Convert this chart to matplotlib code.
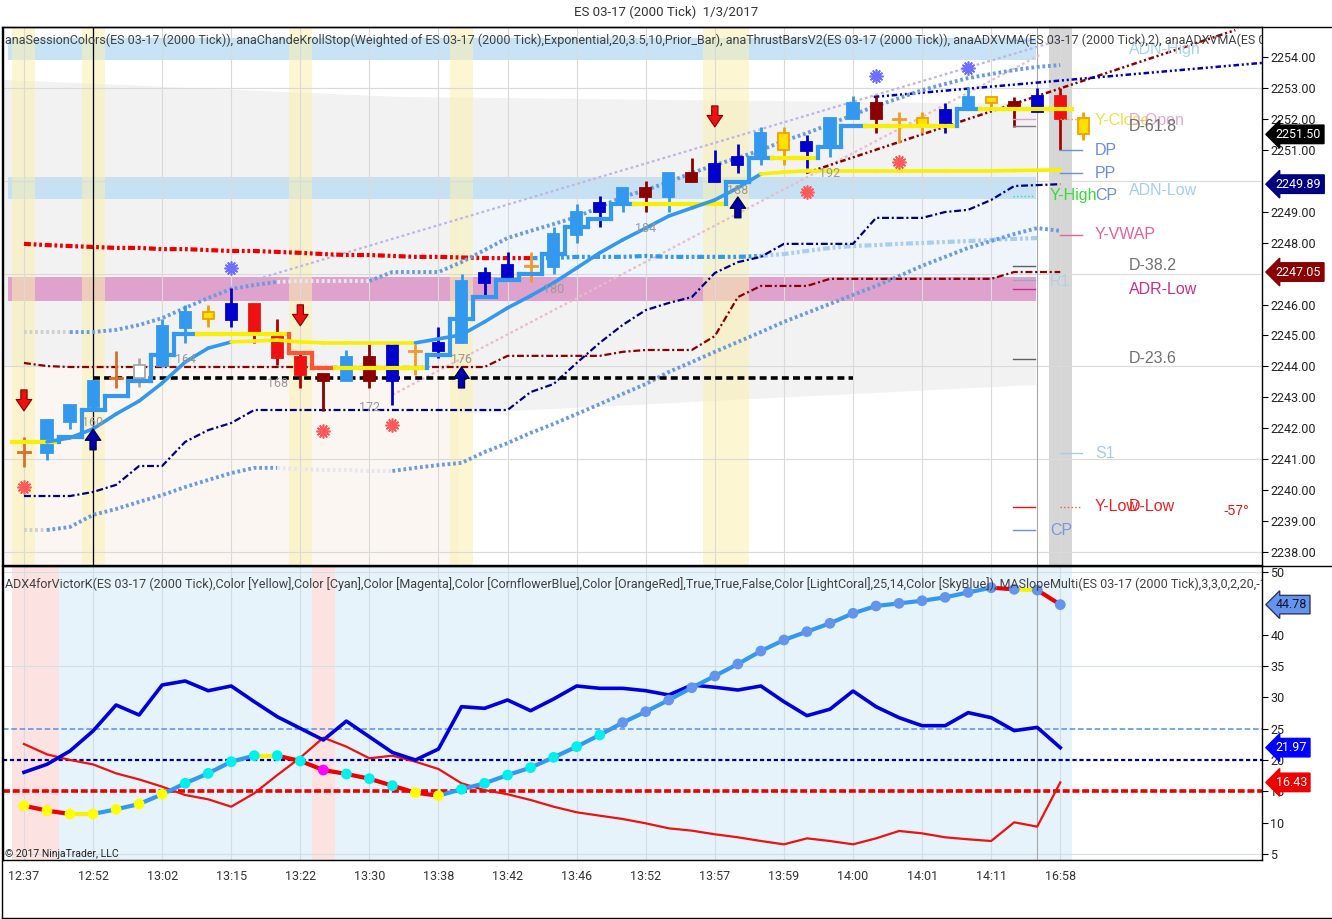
import matplotlib
matplotlib.use('Agg')
import matplotlib.pyplot as plt
from matplotlib.collections import LineCollection
from matplotlib.patches import Polygon
from matplotlib.lines import Line2D
from matplotlib.transforms import blended_transform_factory

plt.rcParams['font.family'] = ['Roboto', 'DejaVu Sans']
plt.rcParams['lines.scale_dashes'] = False

# ---------------- data ----------------
title = "ES 03-17 (2000 Tick)  1/3/2017"
header_top = ("anaSessionColors(ES 03-17 (2000 Tick)), anaChandeKrollStop(Weighted of ES 03-17 (2000 Tick),"
              "Exponential,20,3.5,10,Prior_Bar), anaThrustBarsV2(ES 03-17 (2000 Tick)), "
              "anaADXVMA(ES 03-17 (2000 Tick),2), anaADXVMA(ES 03-17 (2000 Tick),6)")
header_bottom = ("ADX4forVictorK(ES 03-17 (2000 Tick),Color [Yellow],Color [Cyan],Color [Magenta],"
                 "Color [CornflowerBlue],Color [OrangeRed],True,True,False,Color [LightCoral],25,14,"
                 "Color [SkyBlue]), MASlopeMulti(ES 03-17 (2000 Tick),3,3,0,2,20,-10,10)")
copyright_txt = "© 2017 NinjaTrader, LLC"

time_labels = ['12:37', '12:52', '13:02', '13:15', '13:22', '13:30', '13:38', '13:42',
               '13:46', '13:52', '13:57', '13:59', '14:00', '14:01', '14:11', '16:58']

opens = [2241.23, 2241.20, 2242.20, 2242.70, 2243.62, 2243.62, 2244.00, 2245.24, 2245.53, 2245.50,
         2246.02, 2244.98, 2244.30, 2243.75, 2243.53, 2244.30, 2243.53, 2244.50, 2244.50, 2244.76,
         2246.70, 2246.90, 2247.24, 2247.21, 2248.25, 2248.99, 2249.28, 2249.77, 2249.48, 2250.25,
         2249.96, 2250.50, 2250.77, 2251.00, 2250.97, 2251.10, 2252.00, 2252.51, 2252.00, 2251.74,
         2251.87, 2252.29, 2252.50, 2252.55, 2252.22, 2252.74, 2252.03]
highs = [2241.72, 2242.30, 2242.75, 2243.55, 2244.50, 2244.27, 2245.53, 2245.98, 2245.98, 2246.53,
         2246.02, 2245.53, 2244.50, 2243.75, 2244.53, 2244.72, 2244.72, 2244.72, 2245.27, 2246.98,
         2247.20, 2247.70, 2247.70, 2248.50, 2249.25, 2249.50, 2249.77, 2250.00, 2250.25, 2250.74,
         2251.00, 2251.20, 2251.74, 2251.74, 2251.48, 2252.03, 2252.74, 2252.74, 2252.22, 2252.22,
         2252.51, 2253.03, 2252.71, 2252.71, 2253.00, 2253.00, 2252.22]
lows = [2240.75, 2240.97, 2241.98, 2242.70, 2243.30, 2243.33, 2243.98, 2244.76, 2245.27, 2245.27,
        2244.76, 2244.04, 2243.30, 2242.56, 2243.53, 2243.30, 2242.75, 2243.72, 2244.27, 2244.76,
        2246.30, 2246.80, 2246.73, 2247.00, 2247.99, 2248.50, 2249.00, 2249.00, 2249.00, 2249.96,
        2249.96, 2250.25, 2250.50, 2250.50, 2250.41, 2250.77, 2252.00, 2251.54, 2251.22, 2251.54,
        2251.54, 2252.29, 2252.29, 2251.74, 2252.22, 2251.00, 2251.32]
closes = [2241.23, 2242.27, 2242.75, 2243.53, 2243.62, 2244.03, 2245.30, 2245.76, 2245.76, 2246.02,
          2245.05, 2244.27, 2243.72, 2243.53, 2244.30, 2243.53, 2244.72, 2244.50, 2244.76, 2246.76,
          2247.02, 2247.28, 2247.24, 2248.28, 2248.99, 2249.28, 2249.77, 2249.48, 2250.25, 2249.96,
          2250.54, 2250.77, 2251.54, 2251.54, 2251.26, 2252.03, 2252.51, 2252.00, 2252.00, 2252.03,
          2252.29, 2252.71, 2252.71, 2252.29, 2252.74, 2252.00, 2251.50]
bar_kind = ['CH', 'LB', 'LB', 'LB', 'CH', 'GY', 'LB', 'LB', 'YL', 'DB', 'R', 'R', 'R', 'DR', 'LB',
            'DR', 'DB', 'OR', 'DB', 'LB', 'DB', 'DB', 'OR', 'LB', 'LB', 'DB', 'LB', 'DR', 'LB', 'DR',
            'DB', 'DB', 'LB', 'YL', 'DB', 'LB', 'LB', 'DR', 'OR', 'YL', 'DB', 'LB', 'YL', 'DR', 'DB',
            'R', 'YL']

# ADXVMA(2) stepped line
adxvma2 = [2241.55, 2241.55, 2241.72, 2242.60, 2243.04, 2243.53, 2244.37, 2245.05, 2245.05, 2245.05,
           2245.05, 2245.05, 2244.43, 2243.95, 2243.95, 2243.95, 2243.95, 2243.95, 2244.37, 2245.53,
           2246.24, 2246.80, 2246.98, 2247.63, 2248.50, 2248.76, 2249.25, 2249.25, 2249.25, 2249.25,
           2249.25, 2249.96, 2250.74, 2250.74, 2250.74, 2251.10, 2251.77, 2251.77, 2251.77, 2251.77,
           2251.77, 2252.32, 2252.32, 2252.32, 2252.32, 2252.32]
# ADXVMA(6) smooth line (starts at bar 1)
adxvma6 = [2241.56, 2241.69, 2241.98, 2242.46, 2242.88, 2243.46, 2244.14, 2244.59, 2244.79, 2244.82,
           2244.85, 2244.79, 2244.76, 2244.76, 2244.76, 2244.76, 2244.76, 2244.89, 2245.02, 2245.44,
           2245.89, 2246.28, 2246.70, 2247.18, 2247.67, 2248.09, 2248.47, 2248.86, 2249.12, 2249.38,
           2249.77, 2250.22, 2250.28, 2250.32, 2250.32, 2250.32, 2250.32, 2250.32, 2250.32, 2250.32,
           2250.32, 2250.32, 2250.33, 2250.34, 2250.35]
# Chande Kroll stop dotted lines
ck_upper = [2245.11, 2245.11, 2245.11, 2245.11, 2245.18, 2245.34, 2245.56, 2245.89, 2246.21, 2246.50,
            2246.63, 2246.73, 2246.76, 2246.76, 2246.76, 2246.76, 2247.05, 2247.05, 2247.05, 2247.37,
            2247.76, 2248.15, 2248.38, 2248.60, 2248.83, 2249.15, 2249.48, 2249.70, 2249.96, 2250.25,
            2250.51, 2250.74, 2250.99, 2251.29, 2251.54, 2251.83, 2252.13, 2252.42, 2252.67, 2252.93,
            2253.13, 2253.32, 2253.45, 2253.58, 2253.68, 2253.74]
ck_upper_kind = ['g', 'g', 'g', 'b', 'b', 'b', 'b', 'b', 'b', 'b', 'b', 'b', 'w', 'w', 'w', 'w',
                 'b', 'b', 'b', 'b', 'b', 'b', 'b', 'b', 'b', 'b', 'b', 'b', 'b', 'b', 'b', 'b', 'b',
                 'b', 'b', 'b', 'b', 'b', 'b', 'b', 'b', 'b', 'b', 'b', 'b', 'b']
ck_lower = [2238.71, 2238.71, 2238.81, 2239.20, 2239.39, 2239.62, 2239.84, 2240.10, 2240.33, 2240.55,
            2240.72, 2240.72, 2240.68, 2240.65, 2240.65, 2240.62, 2240.62, 2240.72, 2240.81, 2240.88,
            2241.23, 2241.52, 2241.85, 2242.14, 2242.46, 2242.78, 2243.11, 2243.43, 2243.82, 2244.14,
            2244.47, 2244.79, 2245.11, 2245.44, 2245.73, 2246.02, 2246.31, 2246.60, 2246.92, 2247.25,
            2247.54, 2247.83, 2248.05, 2248.28, 2248.47, 2248.38]
ck_lower_kind = ['g', 'g', 'b', 'b', 'b', 'b', 'b', 'b', 'b', 'b', 'b', 'b', 'w', 'w', 'w', 'w',
                 'w', 'b', 'b', 'b', 'b', 'b', 'b', 'b', 'b', 'b', 'b', 'b', 'b', 'b', 'b', 'b', 'b',
                 'b', 'b', 'b', 'b', 'b', 'b', 'b', 'b', 'b', 'b', 'b', 'b', 'b']
# channel lines
chan_upper = [2244.11, 2244.01, 2243.98, 2243.98, 2243.98, 2243.98, 2243.98, 2243.98, 2243.98, 2243.98,
              2243.98, 2243.98, 2243.98, 2243.98, 2243.98, 2243.98, 2243.98, 2243.98, 2243.98, 2243.98,
              2243.98, 2244.34, 2244.34, 2244.34, 2244.34, 2244.34, 2244.47, 2244.53, 2244.53, 2244.53,
              2244.98, 2246.24, 2246.60, 2246.60, 2246.60, 2246.83, 2246.83, 2246.83, 2246.83, 2246.83,
              2246.83, 2246.83, 2246.83, 2247.05, 2247.05, 2247.05]
chan_lower = [2239.81, 2239.81, 2239.81, 2239.94, 2240.17, 2240.78, 2240.78, 2241.56, 2241.94, 2242.17,
              2242.59, 2242.59, 2242.59, 2242.59, 2242.59, 2242.59, 2242.59, 2242.59, 2242.59, 2242.59,
              2242.59, 2242.59, 2243.17, 2243.43, 2244.11, 2244.76, 2245.34, 2245.82, 2246.05, 2246.24,
              2247.02, 2247.37, 2247.54, 2247.96, 2247.96, 2247.96, 2247.96, 2248.80, 2248.80, 2248.80,
              2248.99, 2249.06, 2249.38, 2249.83, 2249.86, 2249.89]
# VWAP (bars 0..44)
vwap = [2247.96, 2247.92, 2247.89, 2247.86, 2247.83, 2247.83, 2247.79, 2247.79, 2247.76, 2247.73,
        2247.73, 2247.70, 2247.67, 2247.63, 2247.60, 2247.60, 2247.57, 2247.54, 2247.54, 2247.52,
        2247.50, 2247.50, 2247.50, 2247.50, 2247.54, 2247.54, 2247.54, 2247.57, 2247.54, 2247.54,
        2247.54, 2247.54, 2247.57, 2247.63, 2247.73, 2247.83, 2247.89, 2247.92, 2247.96, 2247.99,
        2248.02, 2248.05, 2248.09, 2248.12, 2248.15]

# trend lines: (bar0, price0, bar1, price1)
trend_lavender = (9.0, 2246.57, 45.0, 2254.55)
trend_pink = (16.0, 2243.08, 44.1, 2254.06)
trend_darkred = (33.96, 2250.25, 52.6, 2254.87)
trend_navy = (36.9, 2252.71, 53.76, 2253.81)
hline_black = (3, 36, 2243.62)

# zones
adn_high_zone = (2253.90, 2254.61)
adn_low_zone = (2249.41, 2250.12)
adr_low_zone = (2246.11, 2246.89)
gray_zone_top = [(-0.91, 2253.26), (16.3, 2252.71), (43.94, 2252.48)]
gray_zone_bottom = [(43.94, 2243.40), (19.4, 2242.49), (-0.91, 2242.27)]
signal_bars_top = [(-0.5, 0.5), (2.5, 3.5), (11.5, 12.5), (18.5, 19.5), (29.5, 31.5)]

# markers
arrow_down_bars = [0, 12, 30]
arrow_down_tip = [2242.56, 2245.31, 2251.74]
arrow_up_bars = [3, 19, 31]
arrow_up_tip = [2241.98, 2243.98, 2249.48]
star_red_bars = [0, 13, 16, 34, 38]
star_red_price = [2240.10, 2241.91, 2242.11, 2249.64, 2250.61]
star_blue_bars = [9, 37, 41]
star_blue_price = [2247.18, 2253.39, 2253.64]
count_bars = [3, 7, 11, 15, 19, 23, 27, 31, 35]
count_price = [2242.17, 2244.21, 2243.46, 2242.66, 2244.21, 2246.47, 2248.47, 2249.70, 2250.25]
count_text = ['160', '164', '168', '172', '176', '180', '184', '188', '192']

# pivot labels: (text, price, column, color)
pivot_labels = [
    ('ADN-High', 2254.23, 47.98, '#a8d4f0'),
    ('Y-Close', 2251.96, 46.5, '#f2e04a'),
    ('D-Open', 2251.96, 47.98, '#e4a8d4'),
    ('D-61.8', 2251.74, 47.98, '#707070'),
    ('DP', 2250.99, 46.5, '#6a8fd8'),
    ('PP', 2250.25, 46.5, '#6a8fd8'),
    ('ADN-Low', 2249.70, 47.98, '#a0d0f0'),
    ('Y-High', 2249.51, 44.55, '#33dd33'),
    ('CP', 2249.51, 46.5, '#6a8fd8'),
    ('Y-VWAP', 2248.25, 46.5, '#e8609a'),
    ('D-38.2', 2247.25, 47.98, '#707070'),
    ('R1', 2246.73, 44.55, '#b0d0e8'),
    ('ADR-Low', 2246.50, 47.98, '#c8308a'),
    ('D-23.6', 2244.24, 47.98, '#707070'),
    ('S1', 2241.20, 46.5, '#a8cce8'),
    ('Y-Low', 2239.46, 46.5, '#ee2222'),
    ('D-Low', 2239.46, 47.98, '#ee2222'),
    ('CP', 2238.71, 44.55, '#7a98d8'),
]
# pivot line stubs: (price, column start, color, style)
pivot_stubs = [
    (2254.55, 42.95, '#a0c8f0', '-'), (2252.00, 42.95, '#e0a0d0', '-'),
    (2251.77, 42.95, '#808080', '-'), (2252.00, 45.0, '#f0a030', ':'),
    (2250.99, 45.0, '#6a8fd8', '-'), (2250.25, 45.0, '#6a8fd8', '-'),
    (2249.51, 42.95, '#33dd99', ':'), (2248.25, 45.0, '#e8609a', '-'),
    (2247.25, 42.95, '#606060', '-'), (2246.79, 42.95, '#90a8c8', '-'),
    (2246.50, 42.95, '#c8308a', '-'), (2244.24, 42.95, '#606060', '-'),
    (2241.20, 45.0, '#a8cce8', '-'), (2239.46, 42.95, '#ee1111', '-'),
    (2239.46, 45.0, '#f06030', ':'), (2238.71, 42.95, '#6a8fd8', '-'),
]
angle_text = ('-57°', 52.1, 2239.33)
price_boxes = [(2251.50, '2251.50', 'black', 'white'),
               (2249.89, '2249.89', '#000080', 'white'),
               (2247.05, '2247.05', '#8b0000', 'white')]
top_tick_values = [2238, 2239, 2240, 2241, 2242, 2243, 2244, 2245, 2246, 2248, 2249, 2251, 2252, 2253, 2254]

# lower panel
adx_line = [18.04, 19.31, 21.44, 24.63, 28.77, 27.18, 31.96, 32.6, 31.05, 31.8, 29.3, 26.9, 25.05,
            23.19, 26.2, 23.7, 21.2, 20.0, 21.75, 28.5, 28.24, 29.57, 27.86, 29.73, 31.8, 31.43,
            31.43, 31.05, 30.37, 31.96, 31.6, 31.16, 31.8, 29.3, 27.07, 28.1, 31.0, 28.5, 26.75,
            25.47, 25.47, 27.55, 26.75, 24.68, 25.2, 21.97]
dim_line = [22.55, 20.9, 20.0, 19.3, 17.87, 16.9, 15.75, 14.42, 13.73, 12.55, 14.69, 17.6, 20.37,
            23.56, 22.13, 20.27, 20.69, 19.73, 18.56, 16.28, 15.2, 14.53, 13.62, 12.55, 11.66, 11.12,
            10.59, 9.9, 9.1, 8.73, 8.15, 7.67, 7.08, 6.55, 7.5, 7.08, 6.55, 7.5, 8.68, 8.3, 7.67,
            7.35, 7.08, 10.06, 9.37, 16.43]
slope_line = [12.71, 11.92, 11.39, 11.39, 12.13, 12.98, 14.53, 16.28, 17.87, 19.73, 20.69, 20.69,
              19.84, 18.4, 17.77, 17.02, 15.9, 14.78, 14.31, 15.33, 16.28, 17.6, 18.78, 20.42, 22.13,
              23.99, 25.96, 27.71, 29.57, 31.53, 33.4, 35.31, 37.38, 39.14, 40.47, 41.8, 43.4, 44.56,
              44.98, 45.4, 45.94, 46.73, 47.48, 47.22, 47.1, 44.78]
slope_dot_kind = ['Y'] * 7 + ['C'] * 6 + ['M'] + ['C'] * 3 + ['Y'] * 2 + ['C'] * 7 + ['CB'] * 20
lower_levels = [(25, '#6495ed', 1.2, (4, 2)), (20, '#00008b', 1.6, (3, 2)), (15, '#ee0000', 2.6, (5, 2))]
lower_pink_bars = [(-0.5, 1.5), (12.5, 13.5)]
lower_blue_bars = [(1.5, 12.5), (13.5, 45.5)]
lower_boxes = [(44.78, '44.78', '#6495ed', '#111133'), (21.97, '21.97', '#0000ff', 'white'),
               (16.43, '16.43', '#ee0000', 'white')]
lower_tick_values = [5, 10, 15, 20, 25, 30, 35, 40, 50]

# ---------------- figure ----------------
W, H = 1332, 919
fig = plt.figure(figsize=(W / 100, H / 100), dpi=100)


def fx(px):
    return px / W


def fy(py):
    return 1 - py / H


ax = fig.add_axes([fx(3), fy(565), fx(1262) - fx(3), fy(27) - fy(565)])
ax2 = fig.add_axes([fx(3), fy(860), fx(1262) - fx(3), fy(566) - fy(860)])
XMIN, XMAX = -0.91, 53.76
for a in (ax, ax2):
    a.set_xlim(XMIN, XMAX)
    for s in a.spines.values():
        s.set_color('black')
        s.set_linewidth(1.0)
ax.set_ylim(2237.58, 2254.97)
ax2.set_ylim(4.05, 50.94)

n = len(closes)
bars = list(range(n))

# ---- top panel backgrounds ----
ax.add_patch(Polygon(gray_zone_top + gray_zone_bottom, closed=True, fc='#f2f2f2', ec='none', zorder=0.1))
ax.axvspan(-0.91, 18.9, ymin=0, ymax=(2243.98 - 2237.58) / (2254.97 - 2237.58), fc='#fcf6f3', ec='none', zorder=0.15)
ax.fill_between([18.9, 43.94], adr_low_zone[1], adn_low_zone[0], fc='#eff5fa', ec='none', zorder=0.15)
for lo, hi, c in [(adn_high_zone[0], adn_high_zone[1], '#c2e0f5'),
                  (adn_low_zone[0], adn_low_zone[1], '#c2e0f5'),
                  (adr_low_zone[0], adr_low_zone[1], '#dd9ac8')]:
    ax.fill_between([-0.7, 43.94], lo, hi, fc=c, ec='none', zorder=0.3, alpha=0.9)
for a0, a1 in signal_bars_top:
    ax.axvspan(a0, a1, fc='#fbf0b0', ec='none', alpha=0.55, zorder=0.4)
ax.axvspan(44.5, 45.5, fc='#d6d6d6', ec='none', zorder=0.45)

# grid
for k in range(0, 46, 3):
    ax.axvline(k, color='#dadada', lw=0.8, zorder=0.5)
    ax2.axvline(k, color='#d2dde6', lw=0.8, zorder=0.5)
for p in range(2238, 2255, 3):
    ax.axhline(p, color='#dadada', lw=0.8, zorder=0.5)
ax.axvline(44, color='#a8a8a8', lw=0.8, zorder=0.6)
ax.axvline(3, color='black', lw=0.9, zorder=0.6)

# ---- helper for coloured runs ----


def plot_runs(a, xs, ys, kinds, cmap, **kw):
    # segment s (from point s-1 to s) is coloured by kinds[s]
    start = 0
    for s in range(1, len(xs)):
        last = (s == len(xs) - 1) or (kinds[s + 1] != kinds[s])
        if last:
            a.plot(xs[start:s + 1], ys[start:s + 1], color=cmap[kinds[s]], **kw)
            start = s


# trend lines
for (b0, p0, b1, p1), col, lw, dash, z in [
        (trend_lavender, '#bdb5e6', 1.6, (2, 2), 1.0),
        (trend_pink, '#e8bcc8', 1.6, (2, 2), 1.0),
        (trend_darkred, '#8b0000', 1.8, (4, 2, 1.5, 2, 1.5, 2), 1.1),
        (trend_navy, '#0000bb', 1.8, (4, 2, 1.5, 2, 1.5, 2), 1.1)]:
    ax.plot([b0, b1], [p0, p1], color=col, lw=lw, dashes=dash, zorder=z, clip_on=True)

# VWAP line
vb = list(range(len(vwap)))
vk = ['r'] * 23 + ['b'] * 10 + ['l'] * (len(vwap) - 33)
plot_runs(ax, vb, vwap, vk, {'r': '#ee0000', 'b': '#3399ee', 'l': '#a8cdf0'},
          lw=3, dashes=(5, 2, 2, 2, 2, 2), zorder=1.2)

# channel lines
ax.plot(bars[:len(chan_upper)], chan_upper, color='#8b0000', lw=1.6, dashes=(5, 2, 1.5, 2), zorder=1.3)
ax.plot(bars[:len(chan_lower)], chan_lower, color='#000080', lw=1.6, dashes=(5, 2, 1.5, 2), zorder=1.3)

# Chande Kroll dotted lines
ckmap = {'g': '#cfcfcf', 'w': '#e6e6ee', 'b': '#6a9be0'}
plot_runs(ax, bars[:len(ck_upper)], ck_upper, ck_upper_kind, ckmap, lw=2.8, dashes=(2, 2), zorder=1.4)
plot_runs(ax, bars[:len(ck_lower)], ck_lower, ck_lower_kind, ckmap, lw=2.8, dashes=(2, 2), zorder=1.4)

# black dashed level
ax.plot([hline_black[0], hline_black[1]], [hline_black[2]] * 2, color='black', lw=2.6, dashes=(5, 3), zorder=1.5)

# ---- candles ----
kind_style = {
    'LB': ('#3399ee', '#3399ee', '#3399ee'),
    'DB': ('#0000cc', '#0000cc', '#0000cc'),
    'R': ('#ee1111', '#ee1111', '#b00000'),
    'DR': ('#8b0000', '#8b0000', '#8b0000'),
    'YL': ('#ffe000', '#f0a000', '#f0a000'),
    'OR': ('#f09a28', '#f09a28', '#f09a28'),
    'CH': ('#d8702a', '#d8702a', '#d8702a'),
    'GY': ('white', '#a8a8a8', '#a8a8a8'),
}
for i in bars:
    fc, ec, wc = kind_style[bar_kind[i]]
    o, h, l, c = opens[i], highs[i], lows[i], closes[i]
    ax.plot([i, i], [l, h], color=wc, lw=2.0, zorder=2, solid_capstyle='butt')
    if bar_kind[i] in ('OR', 'CH'):
        ax.plot([i - 0.26, i + 0.26], [o, o], color=wc, lw=2.0, zorder=2.1)
    else:
        lo, hi = min(o, c), max(o, c)
        ax.bar(i, max(hi - lo, 0.05), bottom=lo, width=0.48, color=fc, edgecolor=ec,
               linewidth=1.3, zorder=2.1)

# ---- ADXVMA lines ----
trend_cols = {'B': '#3399ee', 'Y': '#f8f000', 'R': '#ff5533'}
segs, cols = [], []
for i, v in enumerate(adxvma2):
    if i == 0:
        k = 'Y'
    else:
        d = v - adxvma2[i - 1]
        k = 'B' if d > 0.001 else ('R' if d < -0.001 else 'Y')
        segs.append([(i - 0.5, adxvma2[i - 1]), (i - 0.5, v)])
        cols.append(trend_cols[k])
    segs.append([(i - 0.5, v), (i + 0.5, v)])
    cols.append(trend_cols[k])
ax.add_collection(LineCollection(segs, colors=cols, linewidths=3.0, zorder=3, capstyle='projecting'))

sb = list(range(1, len(adxvma6) + 1))
segs, cols = [], []
for j in range(1, len(adxvma6)):
    d = adxvma6[j] - adxvma6[j - 1]
    k = 'B' if d > 0.08 else ('R' if d < -0.08 else 'Y')
    segs.append([(sb[j - 1], adxvma6[j - 1]), (sb[j], adxvma6[j])])
    cols.append(trend_cols[k])
ax.add_collection(LineCollection(segs, colors=cols, linewidths=2.6, zorder=3, capstyle='round'))

# ---- markers ----
arrow_style = 'simple,head_length=0.55,head_width=0.75,tail_width=0.3'
for b, p in zip(arrow_down_bars, arrow_down_tip):
    ax.annotate('', xy=(b, p), xytext=(b, p + 0.68),
                arrowprops=dict(arrowstyle=arrow_style, fc='#ee1111', ec='#880000', lw=0.8,
                                mutation_scale=15, shrinkA=0, shrinkB=0), zorder=4)
for b, p in zip(arrow_up_bars, arrow_up_tip):
    ax.annotate('', xy=(b, p), xytext=(b, p - 0.68),
                arrowprops=dict(arrowstyle=arrow_style, fc='#0000aa', ec='#000044', lw=0.8,
                                mutation_scale=15, shrinkA=0, shrinkB=0), zorder=4)
ax.plot(star_red_bars, star_red_price, ls='none', marker=(12, 2, 0), ms=10, mew=1.2,
        color='#ff5a5a', zorder=4)
ax.plot(star_blue_bars, star_blue_price, ls='none', marker=(12, 2, 0), ms=10, mew=1.2,
        color='#6f6fff', zorder=4)
for b, p, t in zip(count_bars, count_price, count_text):
    ax.text(b, p, t, color='#999999', fontsize=9, ha='center', va='center', zorder=4.5)

# ---- pivot stubs and labels ----
for p, c0, col, ls in pivot_stubs:
    ax.plot([c0, c0 + 0.95], [p, p], color=col, lw=1.0, ls=ls, zorder=3.5)
for t, p, c0, col in pivot_labels:
    ax.text(c0, p, t, color=col, fontsize=11.5, ha='left', va='center',
            family=['Liberation Sans', 'DejaVu Sans'], zorder=3.6)
ax.text(angle_text[1], angle_text[2], angle_text[0], color='#ee1111', fontsize=10, ha='left', va='center',
        family=['Liberation Sans', 'DejaVu Sans'], zorder=3.6)

# header texts
ax.text(0.0016, 0.976, header_top, transform=ax.transAxes, fontsize=9.0, color='#404040',
        ha='left', va='center', clip_on=True, zorder=6)
fig.text(0.5, fy(12), title, fontsize=9.5, color='#333333', ha='center', va='center')

# ---- y axis (top) ----
ax.yaxis.tick_right()
ax.set_yticks(top_tick_values)
ax.set_yticklabels([f'{v:.2f}' for v in top_tick_values])
ax.tick_params(axis='y', length=4, width=0.8, pad=2, labelsize=9, labelcolor='#222222')
ax.tick_params(axis='x', bottom=False, labelbottom=False)
tr = blended_transform_factory(ax.transAxes, ax.transData)
for p, t, fc, tc in price_boxes:
    ax.text(1.011, p, t, transform=tr, fontsize=9, color=tc, ha='left', va='center', clip_on=False,
            zorder=10, bbox=dict(boxstyle='larrow,pad=0.22', fc=fc, ec=fc))

# ---------------- lower panel ----------------
for a0, a1 in lower_pink_bars:
    ax2.axvspan(a0, a1, fc='#fde2e2', ec='none', zorder=0.2)
for a0, a1 in lower_blue_bars:
    ax2.axvspan(a0, a1, fc='#e6f3fa', ec='none', zorder=0.2)
for v in (5, 35, 50):
    ax2.axhline(v, color='#d6dde3', lw=0.8, zorder=0.5)
ax2.axvline(44, color='#a8a8a8', lw=0.8, zorder=0.6)
for v, col, lw, dash in lower_levels:
    ax2.axhline(v, color=col, lw=lw, dashes=dash, zorder=1)

ax2.plot(bars[:len(dim_line)], dim_line, color='#ee1111', lw=1.6, zorder=2)
ax2.plot(bars[:len(adx_line)], adx_line, color='#0000dd', lw=2.6, zorder=2.2)
segs, cols = [], []
for j in range(1, len(slope_line)):
    d = slope_line[j] - slope_line[j - 1]
    k = 'B' if d > 0.2 else ('R' if d < -0.2 else 'Y')
    segs.append([(j - 1, slope_line[j - 1]), (j, slope_line[j])])
    cols.append({'B': '#3399ee', 'R': '#ee0000', 'Y': '#f8f000'}[k])
ax2.add_collection(LineCollection(segs, colors=cols, linewidths=3.0, zorder=2.5, capstyle='round'))
dot_cols = {'Y': '#ffff00', 'C': '#00f0f0', 'M': '#ff00ff', 'CB': '#6495ed'}
ax2.scatter(bars[:len(slope_line)], slope_line, s=60, c=[dot_cols[k] for k in slope_dot_kind],
            edgecolors='none', zorder=3)

ax2.text(0.0016, 0.938, header_bottom, transform=ax2.transAxes, fontsize=9.0, color='#404040',
         ha='left', va='center', clip_on=True, zorder=6)
ax2.text(0.0016, 0.02, copyright_txt, transform=ax2.transAxes, fontsize=7.5, color='#222222',
         ha='left', va='center', zorder=6)

ax2.yaxis.tick_right()
ax2.set_yticks(lower_tick_values)
ax2.set_yticklabels([str(v) for v in lower_tick_values])
ax2.tick_params(axis='y', length=4, width=0.8, pad=2, labelsize=9, labelcolor='#222222')
ax2.set_xticks(list(range(0, 46, 3)))
ax2.set_xticklabels(time_labels)
ax2.tick_params(axis='x', length=0, pad=7, labelsize=9, labelcolor='#333333')
tr2 = blended_transform_factory(ax2.transAxes, ax2.transData)
for v, t, fc, tc in lower_boxes:
    ax2.text(1.011, v, t, transform=tr2, fontsize=9, color=tc, ha='left', va='center', clip_on=False,
             zorder=10, bbox=dict(boxstyle='larrow,pad=0.22', fc=fc, ec='#333366' if fc == '#6495ed' else fc))

# frame lines
for (x0, y0, x1, y1) in [(2, 27, 1332, 27), (2, 565.5, 1332, 565.5), (2, 918, 1332, 918), (2, 27, 2, 918)]:
    fig.add_artist(Line2D([fx(x0), fx(x1)], [fy(y0), fy(y1)], color='black', lw=1.0))

fig.savefig('out.png', dpi=100)
